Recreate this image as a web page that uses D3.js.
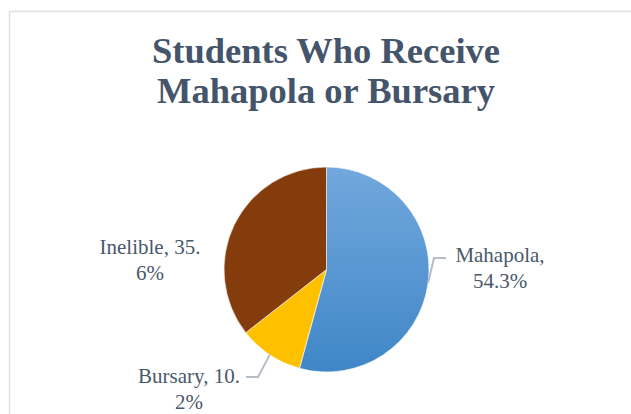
<!DOCTYPE html>
<html>
<head>
<meta charset="utf-8">
<script src="https://cdn.jsdelivr.net/npm/d3@7"></script>
<style>
  body { margin: 0; background: #fff; }
  svg { display: block; }
</style>
</head>
<body>
<script>
// chart data
const categories = ['Mahapola', 'Bursary', 'Inelible']
const shares = [54.3, 10.2, 35.6]
const labelLines = [['Mahapola,', '54.3%'], ['Bursary, 10.', '2%'], ['Inelible, 35.', '6%']]
const titleLines = ['Students Who Receive', 'Mahapola or Bursary']

// measurements
let m = {
  width: 631,
  height: 414,
  cx: 326.5,
  cy: 269.5,
  r: 102.5,
}

const colors = ['url(#blueFill)', '#ffc000', '#843c0c']

// where each label sits, and whether it gets a leader line
const labelPos = {
  Mahapola: { x: 500, y: 262, elbow: [434, 258], end: [446, 258] },
  Bursary: { x: 189, y: 383, elbow: [258, 377], end: [246, 377] },
  Inelible: { x: 150, y: 254, elbow: null },
}

let svg = d3.select('body')
  .append('svg')
  .attr('width', m.width)
  .attr('height', m.height)

// gradient for the blue slice (in the pie group's own coordinates)
let grad = svg.append('defs').append('linearGradient')
  .attr('id', 'blueFill')
  .attr('gradientUnits', 'userSpaceOnUse')
  .attr('x1', 0).attr('y1', -m.r)
  .attr('x2', 0).attr('y2', m.r)
grad.append('stop').attr('offset', '0%').attr('stop-color', '#72a8dd')
grad.append('stop').attr('offset', '100%').attr('stop-color', '#3f86c7')

// chart area border (runs off the right and bottom edges)
svg.append('rect')
  .attr('x', 9.5)
  .attr('y', 11.5)
  .attr('width', 700)
  .attr('height', 500)
  .attr('fill', 'none')
  .attr('stroke', '#dde1e7')
  .attr('stroke-width', 1.5)

// title
svg.append('text')
  .attr('text-anchor', 'middle')
  .attr('font-family', 'Liberation Serif, serif')
  .attr('font-weight', 'bold')
  .attr('font-size', 36.5)
  .attr('fill', '#44546a')
  .selectAll('tspan')
  .data(titleLines)
  .join('tspan')
    .attr('x', 326)
    .attr('y', function(d, i) { return 63 + i * 40 })
    .text(function(d) { return d })

let pie = d3.pie().sort(null).value(function(d) { return d })
let arcs = pie(shares)
let arc = d3.arc().innerRadius(0).outerRadius(m.r)

let g = svg.append('g')
  .attr('transform', 'translate(' + m.cx + ',' + m.cy + ')')

g.selectAll('path')
  .data(arcs)
  .join('path')
    .attr('d', arc)
    .attr('fill', function(d, i) { return colors[i] })
    .attr('stroke', '#fff')
    .attr('stroke-width', 0.6)

// leader lines: from the slice edge at its mid angle to the label
arcs.forEach(function(d, i) {
  let p = labelPos[categories[i]]
  if (!p.elbow) return
  let mid = (d.startAngle + d.endAngle) / 2
  let edge = [m.cx + Math.sin(mid) * m.r, m.cy - Math.cos(mid) * m.r]
  svg.append('polyline')
    .attr('points', [edge, p.elbow, p.end].map(function(q) { return q.join(',') }).join(' '))
    .attr('fill', 'none')
    .attr('stroke', '#b4bcc7')
    .attr('stroke-width', 2)
})

// data labels
categories.forEach(function(c, i) {
  let p = labelPos[c]
  svg.append('text')
    .attr('text-anchor', 'middle')
    .attr('font-family', 'Liberation Serif, serif')
    .attr('font-size', 21)
    .attr('fill', '#4a586c')
    .selectAll('tspan')
    .data(labelLines[i])
    .join('tspan')
      .attr('x', p.x)
      .attr('y', function(d, j) { return p.y + j * 26 })
      .text(function(d) { return d })
})
</script>
</body>
</html>
